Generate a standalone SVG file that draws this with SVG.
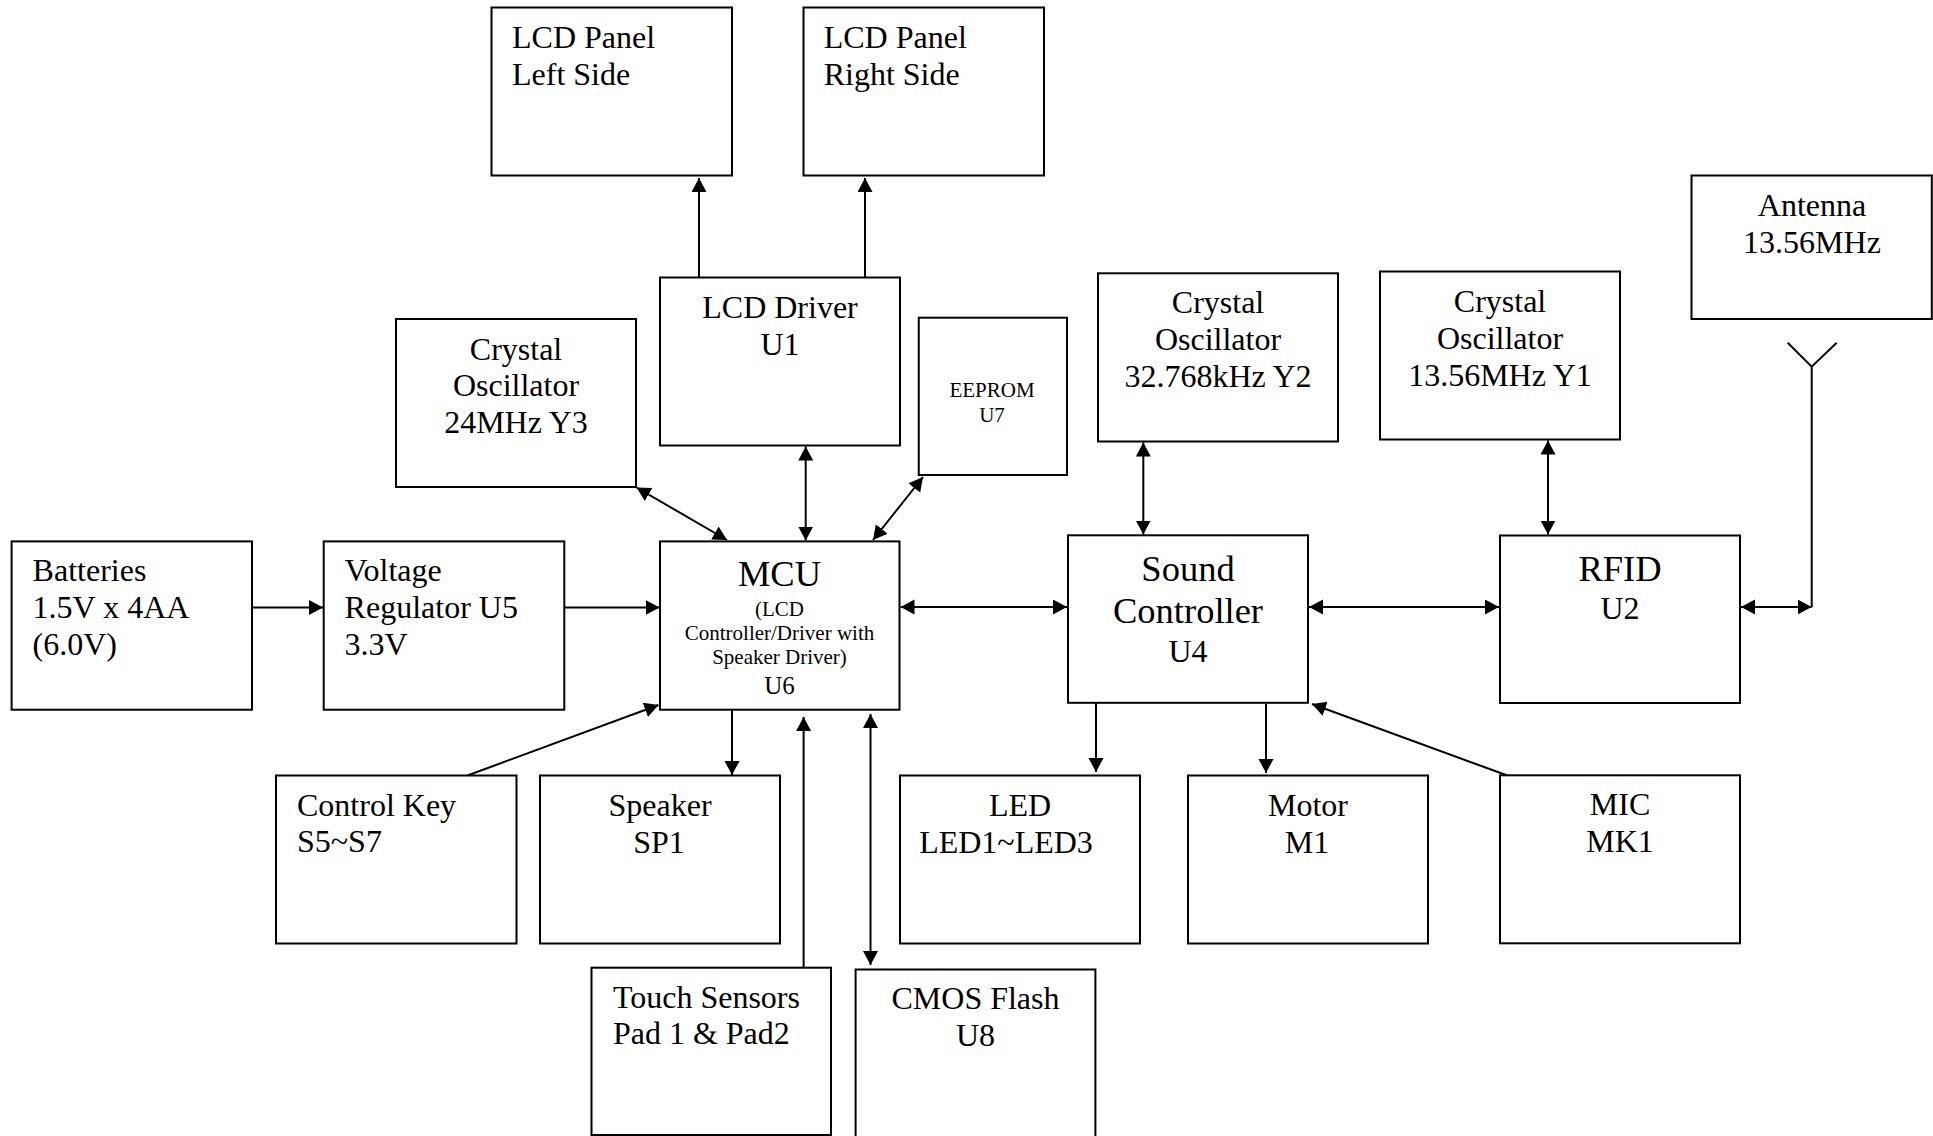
<svg xmlns="http://www.w3.org/2000/svg" width="1933" height="1136" viewBox="0 0 1933 1136">
<style>
.box{fill:#fff;stroke:#000;stroke-width:2}
.t{font-family:"Liberation Serif","Times New Roman",serif;font-size:32px;fill:#000}
.c{text-anchor:middle}
.big{font-size:36.5px}
.sm{font-size:21px}
.u6{font-size:25px}
.ln{fill:none;stroke:#000;stroke-width:2}
.a1{marker-end:url(#ah)}
.a2{marker-start:url(#ah);marker-end:url(#ah)}
</style>
<defs>
<marker id="ah" markerUnits="userSpaceOnUse" markerWidth="16" markerHeight="16" refX="14" refY="7.5" orient="auto-start-reverse" viewBox="0 0 16 16">
<path d="M0,0 L14,7.5 L0,15 z" fill="#000"/>
</marker>
</defs>
<rect width="1933" height="1136" fill="#fff"/>

<g id="connectors">
<path class="ln a1" d="M252,607.5 H323"/>
<path class="ln a1" d="M564.3,607.5 H659.5"/>
<path class="ln a2" d="M900.5,607 H1067"/>
<path class="ln a2" d="M1309,607 H1499"/>
<path class="ln a2" d="M1741,607 H1811.7"/>
<path class="ln" d="M1811.7,607 V366.7 M1787.7,342.7 L1811.7,366.7 L1836.7,342.7"/>
<path class="ln a1" d="M699,277.5 V178"/>
<path class="ln a1" d="M865,277.5 V178"/>
<path class="ln a2" d="M805.7,446.5 V540.5"/>
<path class="ln a2" d="M636.5,487.5 L727,540"/>
<path class="ln a2" d="M923,477 L873,540"/>
<path class="ln a2" d="M1143.3,442.5 V534.5"/>
<path class="ln a2" d="M1548,440.5 V534.5"/>
<path class="ln a1" d="M467.4,775.5 L658.5,705"/>
<path class="ln a1" d="M732,703 V775"/>
<path class="ln a1" d="M803.6,967.7 V717"/>
<path class="ln a2" d="M870.5,714 V965"/>
<path class="ln a1" d="M1096,703 V772"/>
<path class="ln a1" d="M1266,704 V773"/>
<path class="ln a1" d="M1506.7,775.3 L1312,704"/>
</g>

<g id="lcd-left"><rect class="box" x="491.5" y="7.5" width="240.5" height="168"/>
<text class="t" x="512" y="48">LCD Panel</text><text class="t" x="512" y="85">Left Side</text></g>

<g id="lcd-right"><rect class="box" x="803.5" y="7.5" width="240.5" height="168"/>
<text class="t" x="823.7" y="48">LCD Panel</text><text class="t" x="823.7" y="85">Right Side</text></g>

<g id="lcd-driver"><rect class="box" x="660" y="277.5" width="240" height="168"/>
<text class="t c" x="780" y="318">LCD Driver</text><text class="t c" x="780" y="355">U1</text></g>

<g id="crystal-y3"><rect class="box" x="396" y="319" width="240" height="168"/>
<text class="t c" x="516" y="360">Crystal</text><text class="t c" x="516" y="396">Oscillator</text><text class="t c" x="516" y="433">24MHz Y3</text></g>

<g id="eeprom"><rect class="box" x="918.75" y="317.7" width="148.25" height="157.3"/>
<text class="t c sm" x="992" y="397">EEPROM</text><text class="t c sm" x="992" y="422">U7</text></g>

<g id="crystal-y2"><rect class="box" x="1098" y="273.3" width="240" height="168.2"/>
<text class="t c" x="1218" y="313">Crystal</text><text class="t c" x="1218" y="350">Oscillator</text><text class="t c" x="1218" y="387">32.768kHz Y2</text></g>

<g id="crystal-y1"><rect class="box" x="1380" y="271.5" width="240" height="168"/>
<text class="t c" x="1500" y="312">Crystal</text><text class="t c" x="1500" y="349">Oscillator</text><text class="t c" x="1500" y="385.5">13.56MHz Y1</text></g>

<g id="antenna"><rect class="box" x="1691.5" y="175.5" width="240.3" height="143.5"/>
<text class="t c" x="1812" y="216">Antenna</text><text class="t c" x="1812" y="253">13.56MHz</text></g>

<g id="batteries"><rect class="box" x="11.6" y="541.4" width="240.4" height="168.3"/>
<text class="t" x="32.6" y="581">Batteries</text><text class="t" x="32.6" y="618">1.5V x 4AA</text><text class="t" x="32.6" y="655">(6.0V)</text></g>

<g id="regulator"><rect class="box" x="323.7" y="541.4" width="240.6" height="168.3"/>
<text class="t" x="344.6" y="581">Voltage</text><text class="t" x="344.6" y="618">Regulator U5</text><text class="t" x="344.6" y="655">3.3V</text></g>

<g id="mcu"><rect class="box" x="660" y="541.4" width="239.5" height="168.3"/>
<text class="t c big" x="779.5" y="586">MCU</text>
<text class="t c sm" x="779.5" y="615.6">(LCD</text>
<text class="t c sm" x="779.5" y="639.5">Controller/Driver with</text>
<text class="t c sm" x="779.5" y="664">Speaker Driver)</text>
<text class="t c u6" x="779.5" y="693.5">U6</text></g>

<g id="sound"><rect class="box" x="1068" y="535.3" width="240" height="167.5"/>
<text class="t c big" x="1188" y="581">Sound</text><text class="t c big" x="1188" y="622.5">Controller</text><text class="t c" x="1188" y="662">U4</text></g>

<g id="rfid"><rect class="box" x="1500" y="535.5" width="240" height="167.5"/>
<text class="t c big" x="1620" y="581">RFID</text><text class="t c" x="1620" y="618.7">U2</text></g>

<g id="control-key"><rect class="box" x="276" y="775.5" width="240.5" height="168"/>
<text class="t" x="297" y="815.6">Control Key</text><text class="t" x="297" y="852">S5~S7</text></g>

<g id="speaker"><rect class="box" x="540" y="775.5" width="240" height="168"/>
<text class="t c" x="660" y="815.6">Speaker</text><text class="t c" x="659" y="853">SP1</text></g>

<g id="led"><rect class="box" x="900" y="775.5" width="240" height="168"/>
<text class="t c" x="1020" y="815.6">LED</text><text class="t c" x="1006" y="853">LED1~LED3</text></g>

<g id="motor"><rect class="box" x="1188" y="775.5" width="240" height="168"/>
<text class="t c" x="1308" y="815.6">Motor</text><text class="t c" x="1307" y="853">M1</text></g>

<g id="mic"><rect class="box" x="1500" y="775.3" width="240" height="168"/>
<text class="t c" x="1620" y="815">MIC</text><text class="t c" x="1620" y="852">MK1</text></g>

<g id="touch"><rect class="box" x="591.5" y="967.7" width="239.5" height="167.3"/>
<text class="t" x="612.9" y="1008.3">Touch Sensors</text><text class="t" x="612.9" y="1044">Pad 1 &amp; Pad2</text></g>

<g id="cmos"><rect class="box" x="855.6" y="969.5" width="239.8" height="170"/>
<text class="t c" x="975.5" y="1009">CMOS Flash</text><text class="t c" x="975.5" y="1046">U8</text></g>
</svg>
